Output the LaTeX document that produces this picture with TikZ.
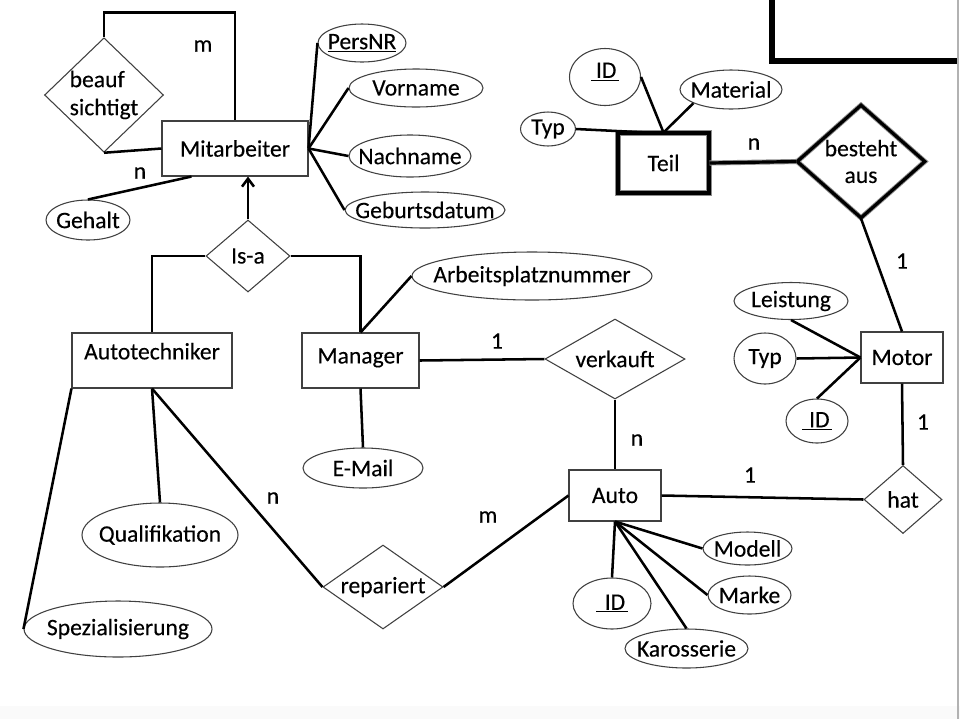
\documentclass[tikz,border=0pt]{standalone}
\usepackage{fontspec}
\setmainfont{Carlito}[FakeBold=0.25]
\usetikzlibrary{shapes.geometric,calc,arrows.meta}
\newcommand\erfont{\fontsize{17.7}{20}\selectfont}
\newcommand\zw[1]{\makebox[0pt]{#1}}
\tikzset{
  sz/.style 2 args={minimum width=#1*0.75pt, minimum height=#2*0.75pt},
  base/.style={draw=black!75, line width=0.8pt, inner sep=0pt, font=\erfont},
  ent/.style={base, rectangle},
  attr/.style={base, ellipse},
  rel/.style={base, diamond},
  weakline/.style={draw=black!45, double=black, double distance=2.4pt, line width=0.7pt},
  weakent/.style={ent, weakline},
  weakrel/.style={rel, weakline},
  conn/.style={line width=1.9pt, black},
  dconn/.style={weakline},
  card/.style={inner sep=0pt, font=\erfont}
}
\begin{document}
\begin{tikzpicture}[x=0.75pt, y=-0.75pt]
\useasboundingbox (0,0) rectangle (960,719);
\fill[white] (0,0) rectangle (960,719);
\fill[black!2] (0,706) rectangle (960,719);
\draw[black!30, line width=1.5pt] (958,0) -- (958,719);
\draw[line width=3.8pt] (772,0) -- (772,61) -- (957,61);

% Entities
\node[ent, sz={146}{55}] (ma) at (235,148.5) {Mitarbeiter};
\node[ent, sz={160}{55}, text depth=14pt] (at) at (152,360.5) {Autotechniker};
\node[ent, sz={117}{55}, text depth=7pt] (mgr) at (360.5,360.5) {Manager};
\node[ent, sz={92}{51}] (auto) at (615,495.5) {Auto};
\node[ent, sz={82}{51}] (motor) at (902,357.5) {Motor};
\node[weakent, sz={91}{60}] (teil) at (663.5,163) {Teil};

% Relationships
\node[rel, sz={116}{112}, aspect=1.04, align=left, font=\fontsize{17.7}{21}\selectfont] (beauf) at (104,95) {beauf\\sichtigt};
\node[rel, sz={84}{72}, aspect=1.17] (isa) at (248,256) {Is-a};
\node[rel, sz={120}{84}, aspect=1.43] (rep) at (383,587) {repariert};
\node[rel, sz={140}{80}, aspect=1.75] (verk) at (615,359) {verkauft};
\node[rel, sz={78}{68}, aspect=1.15] (hat) at (903,499.5) {hat};
\node[weakrel, sz={128}{113}, aspect=1.14, align=center, font=\fontsize{17.7}{20}\selectfont] (besteht) at (861,161.5) {besteht\\aus};

% Attributes
\node[attr, sz={84}{40}] (gehalt) at (88,220) {\zw{Gehalt}};
\node[attr, sz={88}{38}] (persnr) at (362,43) {\zw{\underline{PersNR}}};
\node[attr, sz={134}{38}] (vorname) at (416,88) {\zw{Vorname}};
\node[attr, sz={122}{42}] (nachname) at (410,156) {\zw{Nachname}};
\node[attr, sz={160}{36}] (geburt) at (425,210) {\zw{Geburtsdatum}};
\node[attr, sz={240}{48}] (arbeit) at (532,276) {\zw{Arbeitsplatznummer}};
\node[attr, sz={120}{40}] (email) at (363,468) {\zw{E-Mail}};
\node[attr, sz={156}{64}] (quali) at (160,535) {\zw{Qualifikation}};
\node[attr, sz={188}{56}] (spez) at (118,629) {\zw{Spezialisierung}};
\node[attr, sz={114}{37}] (leist) at (791,301) {\zw{Leistung}};
\node[attr, sz={62}{51}] (mtyp) at (765,358.5) {\zw{Typ}};
\node[attr, sz={62}{44}] (mid) at (817,421) {\zw{\underline{\hspace{0.3em}ID\hspace{0.1em}}}};
\node[attr, sz={71}{57}, text depth=10pt] (tid) at (605,77) {\zw{\underline{\hspace{0.2em}ID\hspace{0.1em}}}};
\node[attr, sz={102}{39}] (mat) at (731,89.5) {\zw{Material}};
\node[attr, sz={55}{34}] (ttyp) at (548,129) {\zw{Typ}};
\node[attr, sz={89}{33}] (modell) at (747.5,548.5) {\zw{Modell}};
\node[attr, sz={83}{38}] (marke) at (749.5,595) {\zw{Marke}};
\node[attr, sz={78}{51}] (aid) at (612,603.5) {\zw{\underline{\hspace{0.35em}ID\hspace{0.1em}}}};
\node[attr, sz={123}{39}] (karo) at (686.5,648.5) {\zw{Karosserie}};

% Connectors: Mitarbeiter
\draw[conn] (beauf.north) -- ++(0,-25) -| (ma.north);
\draw[conn] (beauf.south) -- (ma.west);
\draw[conn] (gehalt.north) -- ($(ma.south west)+(30,0)$);
\draw[conn] (ma.east) -- (persnr.west);
\draw[conn] (ma.east) -- (vorname.west);
\draw[conn] (ma.east) -- (nachname.west);
\draw[conn] (ma.east) -- (geburt.west);
\draw[conn, -{Straight Barb[length=6pt,width=9pt]}] (isa.north) -- (isa.north |- ma.south);

% Is-a
\draw[conn] (isa.west) -| (at.north);
\draw[conn] (isa.east) -| (mgr.north);

% Manager
\draw[conn] (mgr.north) -- (arbeit.west);
\draw[conn] (mgr.south) -- (email.north);
\draw[conn] (mgr.east) -- (verk.west);
\draw[conn] (verk.south) -- (auto.north);

% Autotechniker
\draw[conn] (at.south west) -- (spez.west);
\draw[conn] (at.south) -- (quali.north);
\draw[conn] (at.south) -- (rep.west);
\draw[conn] (rep.east) -- (auto.west);

% Auto
\draw[conn] (auto.east) -- (hat.west);
\draw[conn] (auto.south) -- (aid.north);
\draw[conn] (auto.south) -- (karo.north);
\draw[conn] (auto.south) -- (marke.west);
\draw[conn] (auto.south) -- (modell.west);

% Motor
\draw[conn] (motor.south) -- (hat.north);
\draw[conn] (besteht.south) -- (motor.north);
\draw[conn] (leist.south) -- (motor.west);
\draw[conn] (mtyp.east) -- (motor.west);
\draw[conn] (mid.north) -- (motor.west);

% Teil
\draw[dconn] (teil.east) -- (besteht.west);
\draw[conn] (tid.east) -- (teil.north);
\draw[conn] (mat.200) -- (teil.north);
\draw[conn] (ttyp.east) -- ($(teil.north west)+(30,0)$);

% Cardinalities
\node[card] (c1) at (203,46) {m};
\node[card] (c2) at (140,173) {n};
\node[card] (c3) at (754,144) {n};
\node[card] (c4) at (902,261) {1};
\node[card] (c5) at (497,341) {1};
\node[card] (c6) at (637,440) {n};
\node[card] (c7) at (923,422) {1};
\node[card] (c8) at (750,475) {1};
\node[card] (c9) at (273,498) {n};
\node[card] (c10) at (488,517) {m};
\end{tikzpicture}
\end{document}
